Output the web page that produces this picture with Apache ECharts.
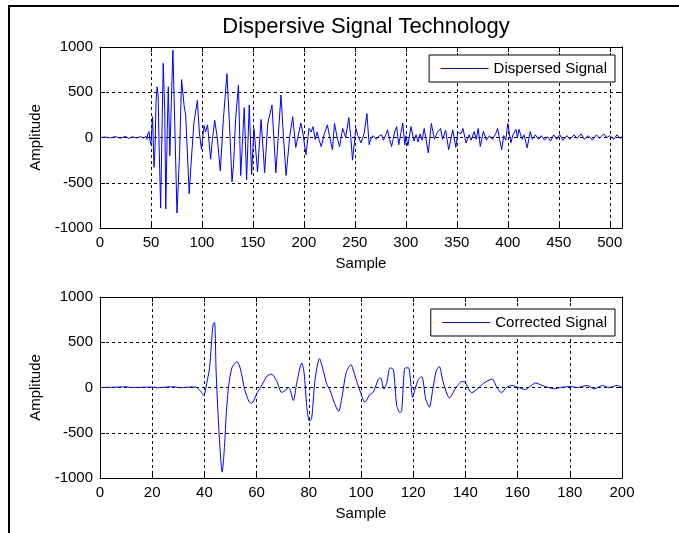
<!DOCTYPE html>
<html><head><meta charset="utf-8">
<script src="https://cdn.jsdelivr.net/npm/echarts@6/dist/echarts.min.js"></script>
<style>html,body{margin:0;padding:0;background:#fff}#c{width:679px;height:533px}</style>
</head><body><div id="c"></div>
<script>
const titleText = 'Dispersive Signal Technology';
const seriesNames = ['Dispersed Signal', 'Corrected Signal'];
const yTicks = [-1000, -500, 0, 500, 1000];

const dispersedSamples = [
  0,5,10,15,20,25,28,32,36,40,
  43,45,46,47,48,49,50,51.5,53,54,
  55,56,57,58,59.5,61,62,63.5,64.5,66,
  67,68.5,70,71.5,73,75.5,78,80,82.5,84,
  87.5,89,92,95.5,97.5,99.5,102,103.5,105.5,108.5,
  110,112.5,115,118,121,124.5,127,129.5,131,133,
  135.8,138,139.5,141.5,143.8,146.4,148.7,151,154.5,158,
  161.5,164.5,168.7,172.5,177.5,180,182.5,186,189,192,
  197,199,202,205,207,209,211,213,215,217,
  220,223,225,228,230,233,235,238,241,244,
  246,247.7,251,253,256,259,261.8,264,266,268,
  271,273,276,278,280,282,284,286,289,291,
  293,295,297,299,300,302,305,308,310,312,
  314,316,318,322,325,328,331,334,336,339,
  342,346,349,351,354,356,359,362,364,367,
  369,371,373,376,379,382,385,388,390,392,
  394,396,398,400,403,405,408,409.5,411,414,
  416,419,422,424,427,430,433,436,439,442,
  445,448,451,454,458,461,465,468,472,475,
  479,483,487,490,494,497,500,504,507,510,512
];
const dispersedAmp = [
  0,5,-5,10,-8,12,-10,8,-5,10,
  -8,15,-20,40,65,-30,-80,230,-330,-100,
  400,560,470,-100,-780,200,820,300,-790,100,
  560,-200,400,965,300,-835,-200,640,350,250,
  -620,-350,150,410,50,-130,130,60,140,-240,
  -50,190,0,-370,200,705,150,-490,-300,200,
  580,-420,-100,330,-470,360,-410,100,-380,200,
  -390,150,360,-390,470,0,-420,0,230,-110,
  160,50,-190,100,60,120,-20,60,-30,-100,
  40,140,20,-135,155,-20,-100,100,0,220,
  0,-250,100,20,-60,40,265,-80,0,20,
  -20,10,30,-30,20,85,-20,-100,60,120,
  -80,40,160,-80,20,-90,120,-40,30,-50,
  40,-30,100,-170,155,-20,60,100,-20,80,
  -135,85,-110,60,40,100,-60,30,-30,65,
  -20,100,-100,70,-30,20,-20,40,100,-20,
  -135,20,-30,155,-60,30,90,0,90,-20,
  30,-115,65,-20,30,-20,20,-30,10,-40,
  30,-20,30,-30,20,-20,30,-10,40,-20,
  20,-30,30,-10,40,0,20,-20,30,-10,10
];

const correctedSamples = [
  0,5,10,12,20,22,27,29,31,35,
  37,38.5,39.7,41.2,42,43.3,43.9,44.5,45.4,46,
  46.8,47.7,48.4,49.3,50.6,52.5,53.8,55.4,57,58,
  60.3,62.2,64.1,65.8,67.7,69.6,70.9,72.2,72.8,74.1,
  75.4,77.3,78.2,79.2,80.2,81.1,82.4,84.1,85.6,86.9,
  88.2,89.7,91.4,92.6,94.3,96.1,97.7,99.6,101.5,103.5,
  104.7,106.6,107.5,108.8,109.9,111.1,112.4,113.7,115,115.6,
  116.9,118.2,119.8,120.7,122,123.3,124.8,126.2,127.5,128.8,
  130,131.5,133.9,136.1,138.6,139.8,142.4,145,147,150.2,
  152.1,153.8,155.7,157.9,160.4,163,164.7,166.9,169.4,172,
  173.9,176.5,180.3,182.9,186.7,189.3,192.5,195,198.2,200
];
const correctedAmp = [
  0,3,8,0,5,-3,8,5,-3,6,
  0,-40,-85,92,222,700,720,165,-390,-680,
  -936,-650,-280,18,222,285,205,-20,-150,-175,
  -55,37,130,145,72,-54,-36,0,-20,-145,
  54,271,160,-200,-373,-340,90,318,180,36,
  -36,-163,-264,-127,163,253,127,-36,-163,-72,
  -54,90,108,-18,54,217,200,-200,-279,-250,
  217,217,-109,-20,90,120,-127,-217,-20,181,
  232,58,-116,-15,65,58,-58,-5,47,94,
  0,-58,0,22,0,-22,10,50,22,0,
  -15,0,11,0,22,-15,22,0,22,0
];

const FONT = "'Liberation Sans', Arial, sans-serif";
const BLUE = '#0000ff';
const pair = (xs, ys) => xs.map((x, i) => [x, ys[i]]);
const plain = v => String(v);

const chart = echarts.init(document.getElementById('c'), null, {renderer: 'canvas'});

function mainX(grid, max, interval) {
  return {
    type: 'value', gridIndex: grid, min: 0, max: max, interval: interval,
    position: 'bottom',
    name: 'Sample', nameLocation: 'middle', nameGap: 28,
    nameTextStyle: {color: '#000', fontSize: 15, fontFamily: FONT},
    axisLine: {show: true, onZero: false, lineStyle: {color: '#000', width: 1}},
    axisTick: {show: true, inside: true, length: 5, lineStyle: {color: '#000'}},
    axisLabel: {color: '#000', fontSize: 15, fontFamily: FONT, margin: 7, formatter: plain,
                showMaxLabel: max % interval === 0},
    splitLine: {show: true, lineStyle: {color: '#000', type: [3, 3], width: 1}}
  };
}
function boxX(grid, max, interval) {
  return {
    type: 'value', gridIndex: grid, min: 0, max: max, interval: interval,
    position: 'top',
    axisLine: {show: true, onZero: false, lineStyle: {color: '#000', width: 1}},
    axisTick: {show: true, inside: true, length: 5, lineStyle: {color: '#000'}},
    axisLabel: {show: false}, splitLine: {show: false}
  };
}
function mainY(grid) {
  return {
    type: 'value', gridIndex: grid, min: yTicks[0], max: yTicks[yTicks.length - 1], interval: 500,
    position: 'left',
    name: 'Amplitude', nameLocation: 'middle', nameGap: 50,
    nameTextStyle: {color: '#000', fontSize: 15, fontFamily: FONT},
    axisLine: {show: true, onZero: false, lineStyle: {color: '#000', width: 1}},
    axisTick: {show: true, inside: true, length: 5, lineStyle: {color: '#000'}},
    axisLabel: {color: '#000', fontSize: 15, fontFamily: FONT, margin: 7, formatter: plain},
    splitLine: {show: true, lineStyle: {color: '#000', type: [3, 3], width: 1}}
  };
}
function boxY(grid) {
  return {
    type: 'value', gridIndex: grid, min: yTicks[0], max: yTicks[yTicks.length - 1], interval: 500,
    position: 'right',
    axisLine: {show: true, onZero: false, lineStyle: {color: '#000', width: 1}},
    axisTick: {show: true, inside: true, length: 5, lineStyle: {color: '#000'}},
    axisLabel: {show: false}, splitLine: {show: false}
  };
}

const legendBase = {
  orient: 'horizontal', right: 64,
  backgroundColor: '#fff', borderColor: '#000', borderWidth: 1, borderRadius: 0,
  padding: [6, 8, 6, 11], itemWidth: 48, itemHeight: 14,
  itemStyle: {opacity: 0},
  lineStyle: {color: BLUE, width: 1},
  textStyle: {color: '#000', fontSize: 15, fontFamily: FONT},
  selectedMode: false
};
const legendItem = name => ({name: name, itemStyle: {opacity: 0}, lineStyle: {color: BLUE, width: 1, opacity: 1}});

chart.setOption({
  animation: false,
  backgroundColor: '#fff',
  title: {
    text: titleText, left: 361, top: 11, textAlign: 'center',
    textStyle: {color: '#000', fontSize: 22, fontWeight: 'normal', fontFamily: FONT}
  },
  grid: [
    {left: 100, top: 47, width: 522, height: 181},
    {left: 100, top: 297, width: 522, height: 181}
  ],
  xAxis: [mainX(0, 512, 50), boxX(0, 512, 50), mainX(1, 200, 20), boxX(1, 200, 20)],
  yAxis: [mainY(0), boxY(0), mainY(1), boxY(1)],
  legend: [
    Object.assign({}, legendBase, {top: 55, data: [legendItem(seriesNames[0])]}),
    Object.assign({}, legendBase, {top: 309, data: [legendItem(seriesNames[1])]})
  ],
  graphic: [
    {type: 'line', shape: {x1: 9, y1: 6, x2: 9, y2: 533}, style: {stroke: '#000', lineWidth: 2}, silent: true},
    {type: 'line', shape: {x1: 8, y1: 6, x2: 679, y2: 6}, style: {stroke: '#000', lineWidth: 2}, silent: true}
  ],
  series: [
    {
      name: seriesNames[0], type: 'line', xAxisIndex: 0, yAxisIndex: 0,
      data: pair(dispersedSamples, dispersedAmp),
      symbol: 'none', color: BLUE, lineStyle: {color: BLUE, width: 1}, itemStyle: {color: BLUE}
    },
    {
      name: seriesNames[1], type: 'line', xAxisIndex: 2, yAxisIndex: 2,
      data: pair(correctedSamples, correctedAmp),
      smooth: 0.25,
      symbol: 'none', color: BLUE, lineStyle: {color: BLUE, width: 1}, itemStyle: {color: BLUE}
    }
  ]
});
</script>
</body></html>
